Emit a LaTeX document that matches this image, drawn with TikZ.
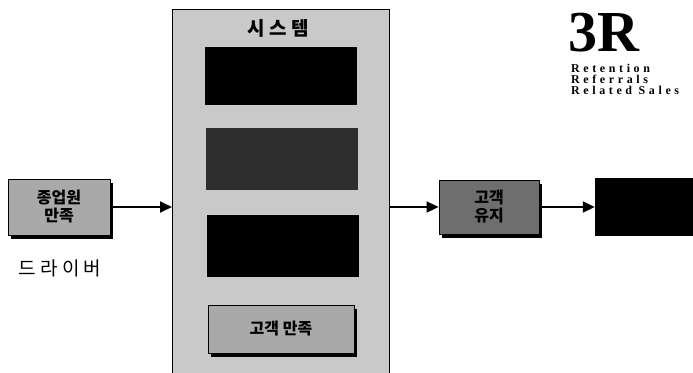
\documentclass[tikz,border=0pt]{standalone}
\usepackage{fontspec}
\setmainfont{Liberation Serif}
\newfontfamily\kr{Noto Sans CJK KR}
\newfontfamily\ser{Liberation Serif}
\newfontfamily\sersp{Liberation Serif}[LetterSpace=30]
\usetikzlibrary{arrows.meta}
\definecolor{sysgray}{HTML}{C9C9C9}
\definecolor{midgray}{HTML}{A9A9A9}
\definecolor{darkgray2}{HTML}{6E6E6E}
\definecolor{vdark}{HTML}{2E2E2E}
\begin{document}
\begin{tikzpicture}[x=1pt,y=-1pt,
  shadowed/.style={draw=black,line width=0.8pt,
     preaction={fill=black,transform canvas={xshift=3pt,yshift=-4pt}}},
  boxlbl/.style={font=\kr\bfseries\fontsize{16}{18}\selectfont,align=center,text=black},
  arr/.style={-{Triangle[length=12pt,width=11pt]},line width=1.8pt}]
\useasboundingbox (0,0) rectangle (693,372);
% left driver box
\node[shadowed,fill=midgray,minimum width=102pt,minimum height=56pt,boxlbl] (emp) at (59,207) {종업원\\만족};
\node[font=\kr\fontsize{19}{22}\selectfont] (drv) at (60,268) {드 라 이 버};
% system box
\path[draw=black,line width=1pt,fill=sysgray] (172,9) rectangle (389,380);
\coordinate (sysl) at (172,207);
\coordinate (sysr) at (389,207);
\node[font=\kr\bfseries\fontsize{19}{22}\selectfont] (sys) at (278,28) {시 스 템};
\node[fill=black,minimum width=152pt,minimum height=58pt] (b1) at (281,76) {};
\node[fill=vdark,minimum width=152pt,minimum height=62pt] (b2) at (282,159) {};
\node[fill=black,minimum width=152pt,minimum height=62pt] (b3) at (283,246) {};
\node[shadowed,fill=midgray,minimum width=146pt,minimum height=48pt,boxlbl] (cs) at (281,329) {고객 만족};
% retention box
\node[shadowed,fill=darkgray2,minimum width=100pt,minimum height=54pt,boxlbl] (ret) at (489,207) {고객\\유지};
% final black box
\node[fill=black,minimum width=100pt,minimum height=58pt] (fin) at (645,207) {};
% arrows
\draw[arr] (emp.east) -- (emp.east -| sysl);
\draw[arr] (sysr) -- (sysr -| ret.west);
\draw[arr] (ret.east) -- (ret.east -| fin.west);
% 3R
\node[font=\ser\bfseries\fontsize{58}{58}\selectfont,anchor=south west,inner sep=0pt] (r3) at (568,52) {3R};
\node[font=\sersp\bfseries\fontsize{12}{11}\selectfont,anchor=north west,align=left,inner sep=0pt] (rr) at (571,64) {Retention\\Referrals\\Related Sales};
\end{tikzpicture}
\end{document}
